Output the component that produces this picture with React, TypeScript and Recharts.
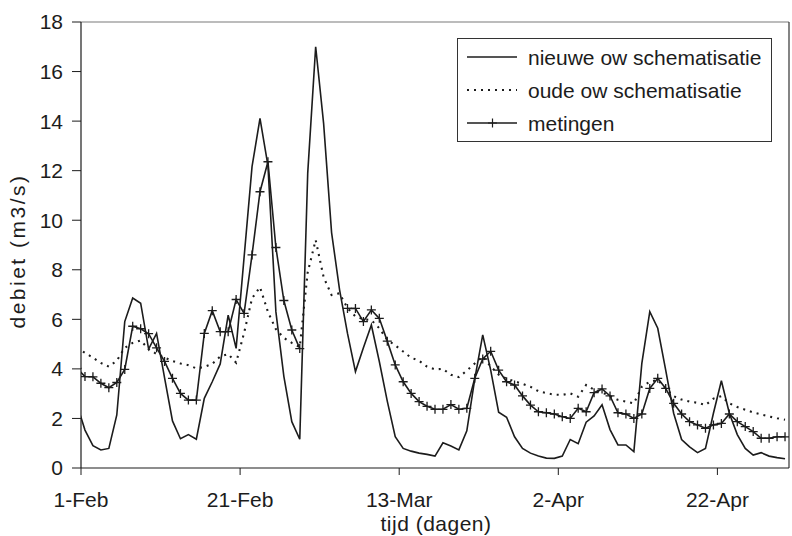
import React from 'react';
import { LineChart, Line, XAxis, YAxis, ReferenceLine, Legend } from 'recharts';

// x positions: day offsets from 1-Feb (points at mid-day, 31-Jan .. 30-Apr)
const tickDays = [0, 20, 40, 60, 80];
const tickLabels = ['1-Feb', '21-Feb', '13-Mar', '2-Apr', '22-Apr'];
const yTicks = [0, 2, 4, 6, 8, 10, 12, 14, 16, 18];
const seriesNames = ['nieuwe ow schematisatie', 'oude ow schematisatie', 'metingen'];

const nieuwe = [
  2.55, 1.53, 0.9, 0.73, 0.79, 2.14, 5.91, 6.86, 6.65, 4.8,
  5.43, 3.65, 1.9, 1.18, 1.35, 1.16, 2.81, 3.48, 4.2, 6.17,
  4.83, 8.5, 12.16, 14.11, 12.2, 6.3, 3.7, 1.87, 1.16, 11.9,
  17.0, 13.9, 9.5, 7.2, 5.43, 3.89, 4.85, 5.77, 4.3, 2.7,
  1.26, 0.79, 0.68, 0.6, 0.55, 0.48, 1.02, 0.89, 0.73, 1.5,
  3.6, 5.37, 3.95, 2.25, 2.05, 1.26, 0.79, 0.6, 0.48, 0.4,
  0.39, 0.48, 1.15, 0.98, 1.85, 2.1, 2.55, 1.55, 0.93, 0.93,
  0.66, 4.22, 6.31, 5.64, 3.95, 2.21, 1.15, 0.85, 0.62, 0.79,
  2.21, 3.52, 2.21, 1.35, 0.79, 0.52, 0.62, 0.48, 0.42, 0.37,
];

const oude = [
  4.85, 4.65, 4.45, 4.24, 4.09, 4.33, 4.85, 5.05, 5.15, 4.8,
  4.6, 4.45, 4.32, 4.22, 4.15, 4.02, 4.08, 4.2, 4.5, 4.6,
  4.25, 5.45, 6.85, 7.3, 6.3, 5.6, 5.25, 5.05, 4.88, 7.9,
  9.2, 7.7, 6.98, 7.05, 6.45, 6.12, 6.0, 5.97, 5.64, 5.17,
  4.95, 4.7, 4.45, 4.33, 4.09, 3.98, 4.0, 3.76, 3.67, 3.93,
  4.22, 4.5, 4.1, 3.77, 3.6, 3.5, 3.4, 3.28, 3.1, 3.02,
  2.96, 2.95, 3.01, 2.88, 3.35, 3.16, 3.05, 2.9, 2.75, 2.68,
  2.61, 3.28, 3.48, 3.55, 3.21, 2.9, 2.76, 2.68, 2.63, 2.54,
  2.8, 2.9, 2.61, 2.46, 2.35, 2.24, 2.16, 2.08, 2.01, 1.95,
];

const metingen: (number | null)[] = [
  4.02, 3.69, 3.68, 3.42, 3.24, 3.45, 3.98, 5.72, 5.62, 5.42,
  4.85, 4.3, 3.62, 3.01, 2.74, 2.74, 5.43, 6.35, 5.5, 5.5,
  6.8, 6.24, 8.6, 11.15, 12.36, 8.9, 6.76, 5.57, 4.82, null,
  null, null, null, null, 6.44, 6.44, 5.91, 6.38, 6.04, 5.12,
  4.16, 3.48, 3.01, 2.68, 2.49, 2.37, 2.37, 2.56, 2.37, 2.41,
  3.62, 4.4, 4.71, 3.95, 3.48, 3.35, 2.91, 2.54, 2.27, 2.23,
  2.18, 2.07, 2.0, 2.41, 2.27, 3.04, 3.19, 2.91, 2.23, 2.18,
  2.0, 2.18, 3.21, 3.62, 3.21, 2.61, 2.18, 1.87, 1.74, 1.6,
  1.74, 1.8, 2.18, 1.87, 1.67, 1.47, 1.2, 1.2, 1.26, 1.26,
];

const data = nieuwe.map((v, i) => ({
  day: i - 0.5,
  nieuwe: v,
  oude: oude[i],
  metingen: metingen[i],
}));

const FONT = '"Liberation Sans", Arial, sans-serif';
const INK = '#1c1c1c';

const PlusDot = (props: any) => {
  const { cx, cy, index } = props;
  if (cx == null || cy == null || props.value == null) return <g key={`p${index}`} />;
  return (
    <path
      key={`p${index}`}
      d={`M${cx - 4.5},${cy}H${cx + 4.5}M${cx},${cy - 4.5}V${cy + 4.5}`}
      stroke={INK}
      strokeWidth={1.3}
      fill="none"
    />
  );
};

const LegendBox = () => {
  const rows = [19, 52, 85];
  return (
    <svg width={316} height={105} style={{ display: 'block', overflow: 'visible' }}>
      <rect x={0.5} y={0.5} width={314} height={103} fill="#fff" stroke="#333" strokeWidth={1} />
      <line x1={10} x2={60} y1={rows[0]} y2={rows[0]} stroke={INK} strokeWidth={1.4} />
      <line x1={10} x2={60} y1={rows[1]} y2={rows[1]} stroke={INK} strokeWidth={1.8} strokeDasharray="2 5" />
      <line x1={10} x2={60} y1={rows[2]} y2={rows[2]} stroke={INK} strokeWidth={1.4} />
      <path d={`M31,${rows[2]}H40M35.5,${rows[2] - 4.5}V${rows[2] + 4.5}`} stroke={INK} strokeWidth={1.2} />
      {seriesNames.map((n, i) => (
        <text key={n} x={71} y={rows[i] + 7.5} fontSize={21} fontFamily={FONT} fill={INK}>
          {n}
        </text>
      ))}
    </svg>
  );
};

const YLabel = () => (
  <text
    x={25}
    y={251}
    transform="rotate(-90 25 251)"
    textAnchor="middle"
    fontSize={21}
    fontFamily={FONT}
    fill={INK}
    letterSpacing={2.5}
  >
    debiet (m3/s)
  </text>
);

const XLabel = () => (
  <text x={436} y={531} textAnchor="middle" fontSize={21} fontFamily={FONT} fill={INK} letterSpacing={0.5}>
    tijd (dagen)
  </text>
);

export default function App() {
  return (
    <div style={{ position: 'absolute', left: 0, top: 0, background: '#fff' }}>
      <LineChart width={792} height={536} data={data} margin={{ top: 22, right: 3, bottom: 0, left: 0 }}>
        <XAxis
          dataKey="day"
          type="number"
          domain={[0, 89]}
          allowDataOverflow
          ticks={tickDays}
          tickFormatter={(v: number) => tickLabels[tickDays.indexOf(v)] ?? ''}
          height={68}
          tickSize={7}
          tickMargin={17}
          stroke={INK}
          tick={{ fontSize: 21, fontFamily: FONT, fill: INK }}
          axisLine={{ stroke: INK, strokeWidth: 1.2 }}
          tickLine={{ stroke: INK }}
          label={<XLabel />}
        />
        <YAxis
          type="number"
          domain={[0, 18]}
          ticks={yTicks}
          width={81}
          tickSize={9}
          tickMargin={9}
          stroke={INK}
          tick={{ fontSize: 21, fontFamily: FONT, fill: INK }}
          axisLine={{ stroke: INK, strokeWidth: 1.2 }}
          tickLine={{ stroke: INK }}
          label={<YLabel />}
        />
        <ReferenceLine y={18} stroke="#7a7a7a" strokeWidth={1.2} />
        <ReferenceLine x={89} stroke="#333" strokeWidth={1.2} />
        <Line
          dataKey="oude"
          name={seriesNames[1]}
          stroke={INK}
          strokeWidth={2.1}
          strokeDasharray="2 5"
          dot={false}
          isAnimationActive={false}
        />
        <Line
          dataKey="nieuwe"
          name={seriesNames[0]}
          stroke={INK}
          strokeWidth={1.6}
          dot={false}
          isAnimationActive={false}
        />
        <Line
          dataKey="metingen"
          name={seriesNames[2]}
          stroke={INK}
          strokeWidth={1.6}
          dot={PlusDot}
          activeDot={false}
          connectNulls={false}
          isAnimationActive={false}
        />
        <Legend
          layout="vertical"
          align="center"
          verticalAlign="middle"
          content={<LegendBox />}
          wrapperStyle={{ position: 'absolute', left: 457, top: 38, width: 316, height: 105 }}
        />
      </LineChart>
    </div>
  );
}
